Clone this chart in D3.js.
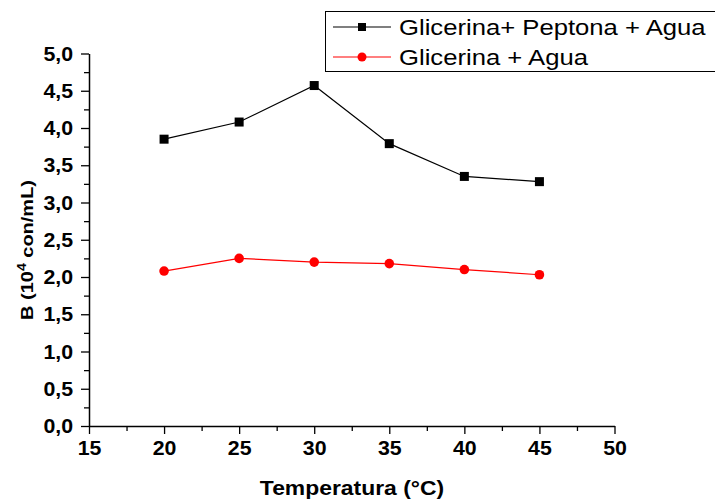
<!DOCTYPE html>
<html><head><meta charset="utf-8">
<script src="https://cdn.jsdelivr.net/npm/d3@7"></script>
<style>body{margin:0;background:#fff}svg{display:block}</style>
</head><body><svg id="c" width="715" height="500"></svg>
<script>
const temps = [20, 25, 30, 35, 40, 45];
const seriesNames = ["Glicerina+ Peptona + Agua", "Glicerina + Agua"];
const peptona = [3.85, 4.08, 4.57, 3.79, 3.35, 3.28];
const agua = [2.08, 2.25, 2.20, 2.18, 2.10, 2.03];
const xTicks = [15, 20, 25, 30, 35, 40, 45, 50];
const yTicks = [0, 0.5, 1, 1.5, 2, 2.5, 3, 3.5, 4, 4.5, 5];

const svg = d3.select("#c");
const x = d3.scaleLinear().domain([15, 50]).range([89, 614.5]);
const y = d3.scaleLinear().domain([0, 5]).range([426, 53.5]);
const fmt = d => d3.format(".1f")(d).replace(".", ",");
const font = "Liberation Sans, Arial, sans-serif";

function stretch(sel, f) {
  sel.each(function () {
    const L = this.getComputedTextLength();
    d3.select(this).attr("textLength", L * f).attr("lengthAdjust", "spacingAndGlyphs");
  });
}

const xMinor = d3.range(17.5, 50, 5);
const yMinor = d3.range(0.25, 5, 0.5);

const gx = svg.append("g").attr("transform", "translate(0,426)")
  .call(d3.axisBottom(x).tickValues(xTicks).tickFormat(d3.format("d")).tickSizeInner(8).tickSizeOuter(0).tickPadding(6));
gx.append("g").call(d3.axisBottom(x).tickValues(xMinor).tickFormat("").tickSizeInner(5).tickSizeOuter(0))
  .select(".domain").remove();
const gy = svg.append("g").attr("transform", "translate(89,0)")
  .call(d3.axisLeft(y).tickValues(yTicks).tickFormat(fmt).tickSizeInner(8).tickSizeOuter(0).tickPadding(8));
gy.append("g").call(d3.axisLeft(y).tickValues(yMinor).tickFormat("").tickSizeInner(5).tickSizeOuter(0))
  .select(".domain").remove();

svg.selectAll(".domain").attr("stroke", "#000").attr("stroke-width", 1.5);
svg.selectAll(".tick line").attr("stroke", "#000").attr("stroke-width", 1.3);
svg.selectAll(".tick text").attr("font-family", font).attr("font-size", 20.5).attr("font-weight", "bold").attr("fill", "#000");
stretch(svg.selectAll(".tick text").filter(function () { return this.textContent !== ""; }), 1.04);

// axis titles
const xt = svg.append("text").attr("x", 352).attr("y", 495).attr("text-anchor", "middle")
  .attr("font-family", font).attr("font-size", 21).attr("font-weight", "bold").text("Temperatura (°C)");
stretch(xt, 1.09);
const yl = svg.append("text").attr("transform", "translate(32.5,250) rotate(-90)").attr("text-anchor", "middle")
  .attr("font-family", font).attr("font-size", 17).attr("font-weight", "bold");
yl.append("tspan").text("B (10");
yl.append("tspan").attr("dy", -7).attr("font-size", 12).text("4");
yl.append("tspan").attr("dy", 7).text(" con/mL)");
yl.attr("textLength", 140).attr("lengthAdjust", "spacingAndGlyphs");

const line = d3.line().x((d, i) => x(temps[i])).y(d => y(d));
svg.append("path").datum(peptona).attr("d", line).attr("fill", "none").attr("stroke", "#000").attr("stroke-width", 1.2);
svg.append("path").datum(agua).attr("d", line).attr("fill", "none").attr("stroke", "#ff0000").attr("stroke-width", 1.2);
svg.selectAll(".sq").data(peptona).enter().append("rect")
  .attr("x", (d, i) => x(temps[i]) - 4.5).attr("y", d => y(d) - 4.5).attr("width", 9).attr("height", 9).attr("fill", "#000");
svg.selectAll(".ci").data(agua).enter().append("circle")
  .attr("cx", (d, i) => x(temps[i])).attr("cy", d => y(d)).attr("r", 4.8).attr("fill", "#ff0000");

// legend
svg.append("rect").attr("x", 325.5).attr("y", 11.5).attr("width", 400).attr("height", 60)
  .attr("fill", "#fff").attr("stroke", "#000").attr("stroke-width", 1);
const lg = svg.append("g");
lg.append("line").attr("x1", 333).attr("x2", 391).attr("y1", 27).attr("y2", 27).attr("stroke", "#000").attr("stroke-width", 1.2);
lg.append("rect").attr("x", 358).attr("y", 23).attr("width", 8).attr("height", 8).attr("fill", "#000");
lg.append("line").attr("x1", 333).attr("x2", 391).attr("y1", 57).attr("y2", 57).attr("stroke", "#ff0000").attr("stroke-width", 1.2);
lg.append("circle").attr("cx", 362).attr("cy", 57).attr("r", 4.5).attr("fill", "#ff0000");
const lt = lg.selectAll("text").data(seriesNames).enter().append("text")
  .attr("x", 399).attr("y", (d, i) => 35 + i * 30)
  .attr("font-family", font).attr("font-size", 22.5).attr("fill", "#000").text(d => d);
stretch(lt, 1.14);
</script></body></html>
